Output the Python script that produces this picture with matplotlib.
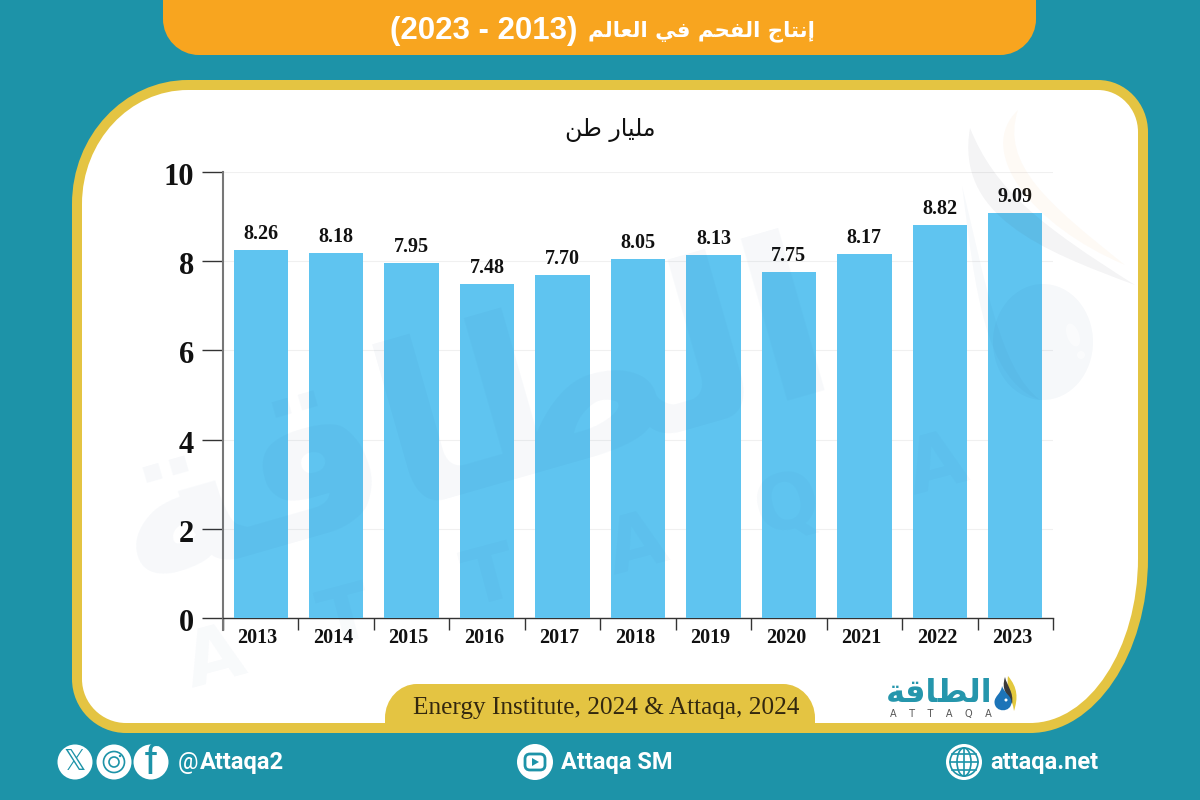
import matplotlib
matplotlib.use("Agg")
import matplotlib.pyplot as plt
from matplotlib.patches import PathPatch, Circle, Ellipse, FancyBboxPatch, Polygon
from matplotlib.path import Path
from matplotlib.transforms import ScaledTranslation

years = ["2013", "2014", "2015", "2016", "2017", "2018", "2019", "2020", "2021", "2022", "2023"]
production = [8.26, 8.18, 7.95, 7.48, 7.70, 8.05, 8.13, 7.75, 8.17, 8.82, 9.09]
y_ticks = [0, 2, 4, 6, 8, 10]

title_ar = "إنتاج الفحم في العالم"
title_years = "(2023 - 2013)"
unit_ar = "مليار طن"
brand_ar = "الطاقة"
source_text = "Energy Institute, 2024 & Attaqa, 2024"

TEAL = "#1d93a8"
ORANGE = "#f8a51f"
YELLOW = "#e4c442"
BAR = "#5fc4f0"

# matplotlib does not join Arabic letters, so pick the presentation forms here
# letter: isolated, final, initial, medial
FORMS = {
    "إ": (0xFE87, 0xFE88, None, None),
    "ا": (0xFE8D, 0xFE8E, None, None),
    "ر": (0xFEAD, 0xFEAE, None, None),
    "ة": (0xFE93, 0xFE94, None, None),
    "ن": (0xFEE5, 0xFEE6, 0xFEE7, 0xFEE8),
    "ت": (0xFE95, 0xFE96, 0xFE97, 0xFE98),
    "ج": (0xFE9D, 0xFE9E, 0xFE9F, 0xFEA0),
    "ل": (0xFEDD, 0xFEDE, 0xFEDF, 0xFEE0),
    "ف": (0xFED1, 0xFED2, 0xFED3, 0xFED4),
    "ح": (0xFEA1, 0xFEA2, 0xFEA3, 0xFEA4),
    "م": (0xFEE1, 0xFEE2, 0xFEE3, 0xFEE4),
    "ي": (0xFEF1, 0xFEF2, 0xFEF3, 0xFEF4),
    "ع": (0xFEC9, 0xFECA, 0xFECB, 0xFECC),
    "ط": (0xFEC1, 0xFEC2, 0xFEC3, 0xFEC4),
    "ق": (0xFED5, 0xFED6, 0xFED7, 0xFED8),
}


def shape_ar(text):
    out = []
    for i, ch in enumerate(text):
        if ch not in FORMS:
            out.append(ch)
            continue
        prev = text[i - 1] if i > 0 else " "
        nxt = text[i + 1] if i + 1 < len(text) else " "
        joins_prev = prev in FORMS and FORMS[prev][2] is not None
        joins_next = nxt in FORMS and FORMS[ch][2] is not None
        if joins_prev and joins_next:
            code = FORMS[ch][3]
        elif joins_prev:
            code = FORMS[ch][1]
        elif joins_next:
            code = FORMS[ch][2]
        else:
            code = FORMS[ch][0]
        out.append(chr(code))
    return "".join(reversed(out))


# rounded box with its own radius per corner, (rx, ry) in pixels
def round_box(x0, y0, x1, y1, tl, tr, br, bl):
    k = 0.45
    v = [(x0 + tl[0], y0), (x1 - tr[0], y0),
         (x1 - tr[0] * k, y0), (x1, y0 + tr[1] * k), (x1, y0 + tr[1]),
         (x1, y1 - br[1]),
         (x1, y1 - br[1] * k), (x1 - br[0] * k, y1), (x1 - br[0], y1),
         (x0 + bl[0], y1),
         (x0 + bl[0] * k, y1), (x0, y1 - bl[1] * k), (x0, y1 - bl[1]),
         (x0, y0 + tl[1]),
         (x0, y0 + tl[1] * k), (x0 + tl[0] * k, y0), (x0 + tl[0], y0)]
    c = [Path.MOVETO, Path.LINETO,
         Path.CURVE4, Path.CURVE4, Path.CURVE4, Path.LINETO,
         Path.CURVE4, Path.CURVE4, Path.CURVE4, Path.LINETO,
         Path.CURVE4, Path.CURVE4, Path.CURVE4, Path.LINETO,
         Path.CURVE4, Path.CURVE4, Path.CURVE4]
    return Path(v, c)


def swoosh(p0, c1, c2, p1, c3, c4, **kw):
    v = [p0, c1, c2, p1, c3, c4, p0]
    c = [Path.MOVETO] + [Path.CURVE4] * 6
    return PathPatch(Path(v, c), lw=0, **kw)


def drop(cx, cy, r, tip_x, tip_y, **kw):
    v = [(tip_x, tip_y), (cx - r * 0.2, cy - r * 1.0), (cx - r, cy - r * 0.7), (cx - r, cy),
         (cx - r, cy + r * 1.3), (cx + r, cy + r * 1.3), (cx + r, cy),
         (cx + r, cy - r * 0.7), (cx + r * 0.2, cy - r * 1.0), (tip_x, tip_y)]
    c = [Path.MOVETO] + [Path.CURVE4] * 9
    return PathPatch(Path(v, c), lw=0, **kw)


fig = plt.figure(figsize=(12, 8), dpi=100, facecolor=TEAL)

# background layer in pixel coordinates
bg = fig.add_axes([0, 0, 1, 1], zorder=0)
bg.set_xlim(0, 1200)
bg.set_ylim(800, 0)
bg.axis("off")

bg.add_patch(PathPatch(round_box(163, -40, 1036, 55, (1, 1), (1, 1), (36, 36), (36, 36)), fc=ORANGE, lw=0))
bg.add_patch(PathPatch(round_box(72, 80, 1148, 733, (116, 124), (50, 52), (118, 175), (54, 54)), fc=YELLOW, lw=0))
bg.add_patch(PathPatch(round_box(82, 90, 1138, 723, (106, 114), (40, 42), (108, 165), (44, 44)), fc="white", lw=0))
bg.add_patch(PathPatch(round_box(385, 684, 815, 730, (32, 34), (32, 34), (1, 1), (1, 1)), fc=YELLOW, lw=0))

bg.text(815, 31, shape_ar(title_ar), color="white", fontsize=15.3, fontweight="bold",
        family="DejaVu Sans", ha="right", va="center")
bg.text(577, 31, title_years, color="white", fontsize=22.5, fontweight="bold",
        family="Liberation Sans", ha="right", va="center")
bg.text(610, 130, shape_ar(unit_ar), color="#111111", fontsize=17, family="DejaVu Sans", ha="center", va="center")
bg.text(606, 708, source_text, color="#33280f", fontsize=18.2, family="Liberation Serif", ha="center", va="center")

# footer
bg.add_patch(Circle((75, 762), 17.5, fc="white", lw=0))
bg.add_patch(Circle((114, 762), 17.5, fc="white", lw=0))
bg.add_patch(Circle((151, 762), 17.5, fc="white", lw=0))
bg.text(75, 762, "\U0001D54F", color=TEAL, fontsize=20, family="DejaVu Sans", ha="center", va="center")
bg.add_patch(Circle((114, 762), 10.5, fc="none", ec=TEAL, lw=1.2))
bg.add_patch(Circle((114, 762), 5, fc="none", ec=TEAL, lw=1.2))
bg.add_patch(Circle((120, 756), 1.2, fc=TEAL, lw=0))
bg.text(151, 763, "f", color=TEAL, fontsize=29, family="Roboto", ha="center", va="center")
bg.text(178, 763, "@", color="white", fontsize=16.5, family="Roboto", ha="left", va="center")
bg.text(200, 763, "Attaqa2", color="white", fontsize=17, fontweight="bold", family="Roboto", ha="left", va="center")

bg.add_patch(Circle((535, 762), 18, fc="white", lw=0))
bg.add_patch(FancyBboxPatch((525, 754), 20, 16, boxstyle="round,pad=0,rounding_size=5", fc="none", ec=TEAL, lw=2))
bg.add_patch(Polygon([(532, 758), (532, 766), (539, 762)], fc=TEAL, lw=0))
bg.text(561, 763, "Attaqa SM", color="white", fontsize=17, fontweight="bold", family="Roboto", ha="left", va="center")

bg.add_patch(Circle((964, 762), 18, fc="white", lw=0))
bg.add_patch(Circle((964, 762), 14, fc="none", ec=TEAL, lw=1.2))
bg.add_patch(Ellipse((964, 762), 14, 28, fc="none", ec=TEAL, lw=1.2))
bg.plot([964, 964], [748, 776], color=TEAL, lw=1.2)
bg.plot([950, 978], [762, 762], color=TEAL, lw=1.2)
bg.plot([952, 976], [754, 754], color=TEAL, lw=1.2)
bg.plot([952, 976], [770, 770], color=TEAL, lw=1.2)
bg.text(990, 763, "attaqa.net", color="white", fontsize=17, fontweight="bold", family="Roboto", ha="left", va="center")

# logo
bg.text(939, 694, shape_ar(brand_ar), color="#2596ac", fontsize=23, fontweight="bold", family="DejaVu Sans",
        ha="center", va="center")
bg.text(941, 714, "A    T    T    A    Q    A", color="#555555", fontsize=7, family="DejaVu Sans", ha="center", va="center")
bg.add_patch(swoosh((1008, 676), (1018, 688), (1018, 698), (1014, 711), (1012, 698), (1006, 690), fc="#e3c93e"))
bg.add_patch(swoosh((1005, 677), (1007, 686), (1014, 692), (1012, 704), (1007, 694), (1001, 690), fc="#3a3a3a"))
bg.add_patch(drop(1003, 702, 8.5, 1002, 686, fc="#1c74b8"))
bg.add_patch(Circle((1006, 700), 1.5, fc="white", lw=0))

# chart
ax = fig.add_axes([223 / 1200, 1 - 618 / 800, (1053 - 223) / 1200, (618 - 172) / 800], zorder=1)
ax.patch.set_alpha(0)
positions = [i + 0.5 for i in range(len(years))]
ax.bar(positions, production, width=0.72, color=BAR, zorder=3)
for p, val in zip(positions, production):
    ax.annotate(f"{val:.2f}", (p, val), xytext=(0, 11.5), textcoords="offset points", ha="center", va="center",
                fontsize=14.5, fontweight="bold", family="Liberation Serif", color="#111111")

ax.set_xlim(0, len(years))
ax.set_ylim(0, 10)
ax.set_yticks(y_ticks)
ax.set_yticklabels([str(t) for t in y_ticks], fontsize=22, fontweight="bold", family="Liberation Serif", color="#111111")
ax.set_xticks(range(len(years) + 1))
ax.set_xticklabels([])
ax.set_xticks(positions, minor=True)
ax.set_xticklabels(years, minor=True, fontsize=14.5, fontweight="bold", family="Liberation Serif", color="#111111")
ax.tick_params(axis="y", length=15, width=1, color="#333333", pad=6)
ax.tick_params(axis="x", which="major", length=8.5, width=1, color="#333333")
ax.tick_params(axis="x", which="minor", length=0, pad=7)
# labels sit a little off the ticks in the original
for lab in ax.get_xticklabels(minor=True):
    lab.set_transform(lab.get_transform() + ScaledTranslation(-0.03, 0, fig.dpi_scale_trans))
for lab in ax.get_yticklabels():
    lab.set_transform(lab.get_transform() + ScaledTranslation(0, -0.02, fig.dpi_scale_trans))
ax.grid(axis="y", color="#f0f0f0", lw=0.8, zorder=0)
ax.set_axisbelow(True)
ax.spines["top"].set_visible(False)
ax.spines["right"].set_visible(False)
ax.spines["left"].set_color("#777777")
ax.spines["left"].set_linewidth(1.5)
ax.spines["left"].set_bounds(-0.27, 10)
ax.spines["bottom"].set_color("#333333")
ax.spines["bottom"].set_linewidth(1)

# faint watermark lying over everything
wm = fig.add_axes([0, 0, 1, 1], zorder=2)
wm.set_xlim(0, 1200)
wm.set_ylim(800, 0)
wm.axis("off")
wm.patch.set_alpha(0)
wm_color = "#1d4f8a"
wm.text(470, 424, shape_ar(brand_ar), color=wm_color, alpha=0.04, fontsize=160, fontweight="bold",
        family="DejaVu Sans", rotation=16, ha="center", va="center", rotation_mode="anchor")
for ch, wx, wy in zip("ATTAQA", [215, 346, 490, 637, 787, 937], [660, 620, 580, 547, 507, 467]):
    wm.text(wx, wy, ch, color=wm_color, alpha=0.03, fontsize=55, fontweight="bold",
            family="DejaVu Sans", rotation=15, ha="center", va="center", rotation_mode="anchor")
wm.add_patch(swoosh((970, 128), (955, 215), (1040, 250), (1135, 285), (1040, 225), (995, 190), fc="#444455", alpha=0.06))
wm.add_patch(swoosh((1018, 110), (975, 150), (1030, 225), (1125, 265), (1050, 205), (1000, 165), fc="#f0a040", alpha=0.05))
wm.add_patch(Ellipse((1043, 342), 100, 116, fc=wm_color, alpha=0.04, lw=0))
wm.add_patch(swoosh((962, 185), (975, 290), (985, 380), (1040, 400), (1000, 370), (985, 280), fc=wm_color, alpha=0.03))
wm.add_patch(Ellipse((1073, 335), 12, 24, angle=-20, fc="white", alpha=0.5, lw=0))
wm.add_patch(Circle((1081, 355), 4, fc="white", alpha=0.5, lw=0))

fig.savefig("out.png", dpi=100, facecolor=TEAL)
